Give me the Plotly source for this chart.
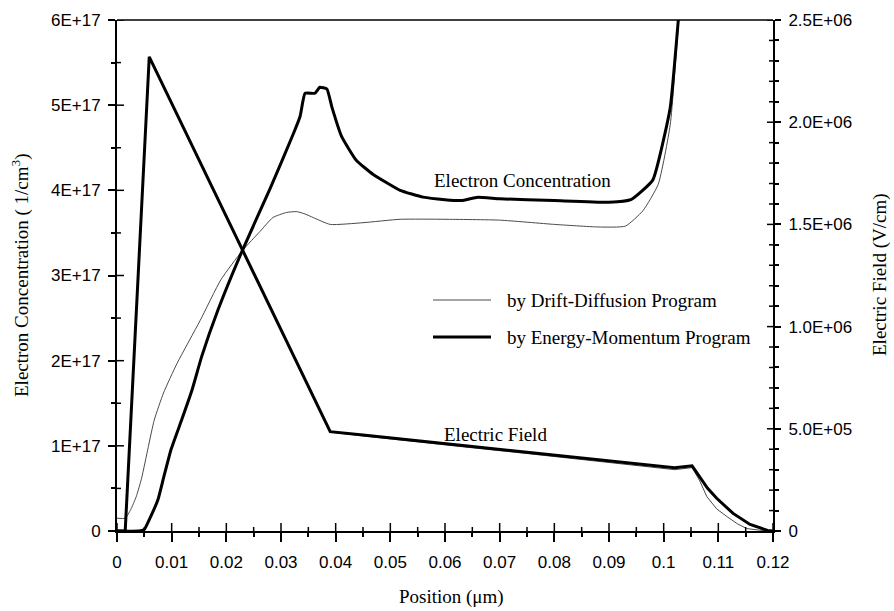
import plotly.graph_objects as go

# ---- data -------------------------------------------------------------
# Electron concentration (1/cm^3), Drift-Diffusion program
pos_n_dd = [0, 0.0015, 0.0025, 0.0035, 0.0045, 0.0057, 0.0068, 0.0085, 0.011,
            0.0152, 0.019, 0.0229, 0.0262, 0.0285, 0.031, 0.0329, 0.0345,
            0.0359, 0.039, 0.045, 0.0518, 0.06, 0.07, 0.08, 0.088, 0.093,
            0.0962, 0.099, 0.1012, 0.1026, 0.104]
n_dd = [0.15e17, 0.15e17, 0.25e17, 0.40e17, 0.62e17, 0.98e17, 1.30e17, 1.62e17,
        1.97e17, 2.47e17, 2.95e17, 3.29e17, 3.52e17, 3.68e17, 3.74e17, 3.75e17,
        3.72e17, 3.68e17, 3.60e17, 3.62e17, 3.66e17, 3.66e17, 3.65e17, 3.60e17,
        3.57e17, 3.58e17, 3.76e17, 4.07e17, 4.77e17, 5.87e17, 7.0e17]

# Electron concentration (1/cm^3), Energy-Momentum program
pos_n_em = [0, 0.004, 0.005, 0.0058, 0.0075, 0.0085, 0.0099, 0.0118, 0.0137,
            0.0155, 0.0185, 0.0229, 0.028, 0.0323, 0.0335, 0.0344, 0.0362,
            0.0371, 0.0384, 0.0393, 0.0411, 0.0438, 0.0468, 0.0518, 0.056,
            0.06, 0.063, 0.066, 0.07, 0.08, 0.09, 0.094, 0.098, 0.1012,
            0.1026, 0.104]
n_em = [0, 0, 0.02e17, 0.12e17, 0.37e17, 0.62e17, 0.96e17, 1.30e17, 1.65e17,
        2.05e17, 2.60e17, 3.29e17, 4.02e17, 4.67e17, 4.87e17, 5.14e17, 5.14e17,
        5.21e17, 5.19e17, 4.98e17, 4.63e17, 4.35e17, 4.19e17, 4.00e17, 3.92e17,
        3.89e17, 3.88e17, 3.92e17, 3.90e17, 3.88e17, 3.86e17, 3.89e17, 4.12e17,
        4.97e17, 5.94e17, 7.0e17]

# Electric field (V/cm), Drift-Diffusion program
pos_e_dd = [0, 0.0015, 0.0059, 0.039, 0.045, 0.055, 0.065, 0.075, 0.085,
            0.095, 0.102, 0.1052, 0.1066, 0.1079, 0.1097, 0.1116, 0.1135,
            0.1152, 0.1175, 0.12]
e_dd = [0, 0, 2.32e6, 0.484e6, 0.465e6, 0.435e6, 0.407e6, 0.379e6, 0.350e6,
        0.321e6, 0.300e6, 0.310e6, 0.245e6, 0.168e6, 0.108e6, 0.070e6,
        0.035e6, 0.012e6, 0.004e6, 0]

# Electric field (V/cm), Energy-Momentum program
pos_e_em = [0, 0.0015, 0.0059, 0.039, 0.045, 0.055, 0.065, 0.075, 0.085,
            0.095, 0.102, 0.1052, 0.1066, 0.1080, 0.1097, 0.1127, 0.1158,
            0.119, 0.12]
e_em = [0, 0, 2.32e6, 0.486e6, 0.470e6, 0.440e6, 0.413e6, 0.385e6, 0.356e6,
        0.328e6, 0.309e6, 0.319e6, 0.266e6, 0.210e6, 0.160e6, 0.086e6,
        0.032e6, 0.003e6, 0]

# axis ticks
x_ticks = [0, 0.01, 0.02, 0.03, 0.04, 0.05, 0.06, 0.07, 0.08, 0.09, 0.1, 0.11, 0.12]
x_tick_labels = ["0", "0.01", "0.02", "0.03", "0.04", "0.05", "0.06", "0.07",
                 "0.08", "0.09", "0.1", "0.11", "0.12"]
x_minor = [0.005 + 0.01 * i for i in range(12)]
n_ticks = [0, 1e17, 2e17, 3e17, 4e17, 5e17, 6e17]
n_tick_labels = ["0", "1E+17", "2E+17", "3E+17", "4E+17", "5E+17", "6E+17"]
n_minor = [0.5e17 + 1e17 * i for i in range(6)]
e_ticks = [0, 0.5e6, 1.0e6, 1.5e6, 2.0e6, 2.5e6]
e_tick_labels = ["0", "5.0E+05", "1.0E+06", "1.5E+06", "2.0E+06", "2.5E+06"]
e_minor = [1e5 * i for i in range(26) if i % 5 != 0]

# ---- styles -----------------------------------------------------------
SANS = "Liberation Sans, Arial, sans-serif"
SERIF = "Liberation Serif, Times New Roman, serif"
THIN = dict(color="#4a4a4a", width=1)
THICK = dict(color="black", width=3)
TICK = dict(color="black", width=1.5)

fig = go.Figure()
fig.add_trace(go.Scatter(x=pos_n_dd, y=n_dd, mode="lines",
                         line=dict(THIN, shape="spline", smoothing=0.5),
                         name="by Drift-Diffusion Program"))
fig.add_trace(go.Scatter(x=pos_e_dd, y=e_dd, mode="lines", line=THIN,
                         yaxis="y2"))
fig.add_trace(go.Scatter(x=pos_n_em, y=n_em, mode="lines",
                         line=dict(THICK, shape="spline", smoothing=0.4),
                         name="by Energy-Momentum Program"))
fig.add_trace(go.Scatter(x=pos_e_em, y=e_em, mode="lines", line=THICK,
                         yaxis="y2"))

axis_common = dict(showgrid=False, zeroline=False, linecolor="black",
                   tickcolor="black", tickwidth=1.5, tickmode="array",
                   showline=True, linewidth=2)

fig.update_layout(
    width=894, height=611,
    margin=dict(l=117, r=121, t=20, b=80),
    plot_bgcolor="white", paper_bgcolor="white",
    font=dict(family=SANS, size=17, color="black"),
    xaxis=dict(range=[0, 0.12], tickvals=x_ticks, ticktext=x_tick_labels,
               ticks="outside", ticklen=9,
               tickfont=dict(family=SANS, size=17), ticklabelstandoff=6,
               minor=dict(ticks="outside", ticklen=4, tickvals=x_minor,
                          tickcolor="black", tickwidth=1.5),
               **axis_common),
    yaxis=dict(range=[0, 6e17], tickvals=n_ticks, ticktext=n_tick_labels,
               ticks="outside", ticklen=7,
               tickfont=dict(family=SANS, size=17), ticklabelstandoff=4,
               minor=dict(ticks="outside", ticklen=4, tickvals=n_minor,
                          tickcolor="black", tickwidth=1.5),
               **axis_common),
    yaxis2=dict(range=[0, 2.5e6], overlaying="y", side="right",
                tickvals=e_ticks, ticktext=e_tick_labels,
                ticks="outside", ticklen=6,
                tickfont=dict(family=SANS, size=17), ticklabelstandoff=4,
                minor=dict(ticks="outside", ticklen=4, tickvals=e_minor,
                           tickcolor="black", tickwidth=1.5),
                **axis_common),
    showlegend=False,
)

# thin frame line along the top of the plot area
fig.add_shape(type="line", xref="paper", yref="paper", x0=0, x1=1, y0=1, y1=1,
              line=dict(color="black", width=1.5))

# inner halves of the tick marks, so every tick crosses its axis line
for v, ln in [(t, 8) for t in x_ticks] + [(t, 4) for t in x_minor]:
    fig.add_shape(type="line", xref="x", yref="paper", ysizemode="pixel",
                  yanchor=0, x0=v, x1=v, y0=0, y1=ln, line=TICK)
for v, ln in [(t, 7) for t in n_ticks] + [(t, 4) for t in n_minor]:
    fig.add_shape(type="line", yref="y", xref="paper", xsizemode="pixel",
                  xanchor=0, y0=v, y1=v, x0=0, x1=ln, line=TICK)
for v, ln in [(t, 6) for t in e_ticks] + [(t, 4) for t in e_minor]:
    fig.add_shape(type="line", yref="y2", xref="paper", xsizemode="pixel",
                  xanchor=1, y0=v, y1=v, x0=-ln, x1=0, line=TICK)


def paper_x(px):
    return (px - 117) / 656


def paper_y(py):
    return (531 - py) / 511


def label(text, px, py, angle=0, xanchor="center"):
    fig.add_annotation(text=text, xref="paper", yref="paper",
                       x=paper_x(px), y=paper_y(py), textangle=angle,
                       xanchor=xanchor, yanchor="middle", showarrow=False,
                       font=dict(family=SERIF, size=19))


# axis titles
label("Electron Concentration ( 1/cm<sup>3</sup>)", 20, 275, angle=-90)
label("Electric Field (V/cm)", 880, 275, angle=-90)
label("Position (μm)", 452, 597)

# curve labels
label("Electron Concentration", 522, 180)
label("Electric Field", 495, 434)

# key for the two programs
key_items = [("by Drift-Diffusion Program", THIN, 300),
             ("by Energy-Momentum Program", THICK, 337)]
for text, style, ypx in key_items:
    fig.add_shape(type="line", xref="paper", yref="paper",
                  x0=paper_x(433), x1=paper_x(491),
                  y0=paper_y(ypx), y1=paper_y(ypx), line=style)
    label(text, 505, ypx, xanchor="left")

fig.write_html("out.html")
